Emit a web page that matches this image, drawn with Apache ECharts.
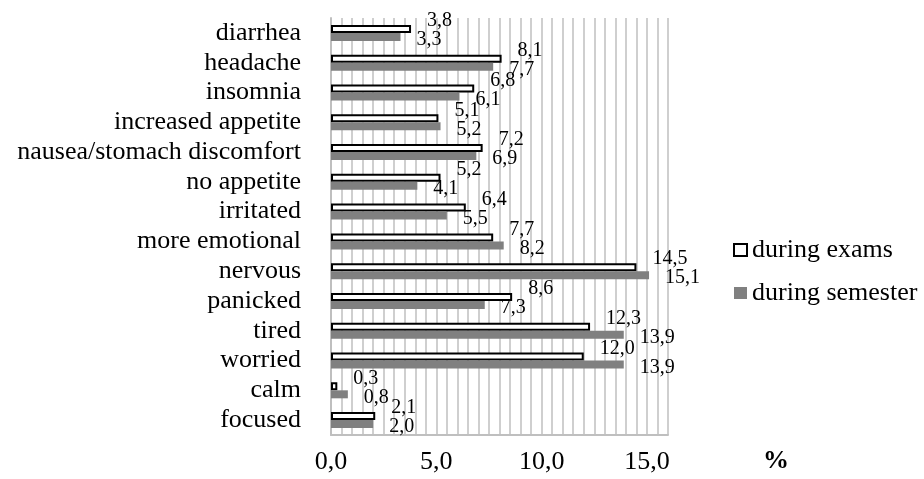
<!DOCTYPE html>
<html>
<head>
<meta charset="utf-8">
<script src="https://cdn.jsdelivr.net/npm/echarts@6/dist/echarts.min.js"></script>
<style>
  html, body { margin: 0; padding: 0; background: #fff; }
  #chart { width: 924px; height: 479px; }
</style>
</head>
<body>
<div id="chart"></div>
<script>
// Symptoms, listed top to bottom
const categories = [
  'diarrhea', 'headache', 'insomnia', 'increased appetite',
  'nausea/stomach discomfort', 'no appetite', 'irritated', 'more emotional',
  'nervous', 'panicked', 'tired', 'worried', 'calm', 'focused'
];
// Share of answers, %
const duringExams =    [3.8, 8.1, 6.8, 5.1, 7.2, 5.2, 6.4, 7.7, 14.5, 8.6, 12.3, 12.0, 0.3, 2.1];
const duringSemester = [3.3, 7.7, 6.1, 5.2, 6.9, 4.1, 5.5, 8.2, 15.1, 7.3, 13.9, 13.9, 0.8, 2.0];
const seriesNames = ['during exams', 'during semester'];
const axisUnit = '%';

const FONT = '"Liberation Serif", "Times New Roman", serif';
const fmt = v => v.toFixed(1).replace('.', ',');

const chart = echarts.init(document.getElementById('chart'), null, { renderer: 'canvas' });

chart.setOption({
  animation: false,
  backgroundColor: '#ffffff',
  textStyle: { fontFamily: FONT, color: '#000' },
  grid: { left: 331, right: 256, top: 18, bottom: 44, containLabel: false },
  legend: {
    orient: 'vertical',
    left: 733,
    top: 237,
    padding: 0,
    itemWidth: 13,
    itemHeight: 12,
    itemGap: 17,
    icon: 'rect',
    textStyle: { fontFamily: FONT, fontSize: 26, lineHeight: 26, color: '#000' },
    data: seriesNames
  },
  xAxis: {
    type: 'value',
    min: 0,
    max: 16,
    interval: 0.5,
    axisLine: { show: true, lineStyle: { color: '#bfbfbf', width: 2 } },
    axisTick: { show: false },
    splitLine: { show: true, lineStyle: { color: '#bfbfbf', width: 1.5 } },
    axisLabel: {
      margin: 14,
      fontFamily: FONT,
      fontSize: 26,
      color: '#000',
      showMaxLabel: true,
      formatter: v => (Math.abs(v % 5) < 1e-9 && v <= 15) ? fmt(v) : ''
    }
  },
  yAxis: {
    type: 'category',
    inverse: true,
    data: categories,
    axisLine: { show: true, lineStyle: { color: '#bfbfbf', width: 2 } },
    axisTick: { show: false },
    splitLine: { show: false },
    axisLabel: {
      interval: 0,
      hideOverlap: false,
      margin: 30,
      fontFamily: FONT,
      fontSize: 26,
      lineHeight: 26,
      color: '#000'
    }
  },
  series: [
    {
      name: seriesNames[0],
      type: 'bar',
      data: duringExams,
      barWidth: 8,
      barGap: '0%',
      itemStyle: { color: '#ffffff', borderColor: '#000000', borderWidth: 2 },
      label: {
        show: true,
        position: 'right',
        distance: 5,
        offset: [11, -8],
        fontFamily: FONT,
        fontSize: 20,
        color: '#000',
        formatter: p => fmt(p.value)
      }
    },
    {
      name: seriesNames[1],
      type: 'bar',
      data: duringSemester,
      barWidth: 8,
      barGap: '0%',
      itemStyle: { color: '#808080' },
      label: {
        show: true,
        position: 'right',
        distance: 5,
        offset: [11, 3],
        fontFamily: FONT,
        fontSize: 20,
        color: '#000',
        formatter: p => fmt(p.value)
      }
    }
  ],
  graphic: [
    {
      type: 'text',
      left: 763,
      top: 448,
      style: { text: axisUnit, fontFamily: FONT, fontSize: 26, fontWeight: 'bold', fill: '#000' }
    }
  ]
});
</script>
</body>
</html>
